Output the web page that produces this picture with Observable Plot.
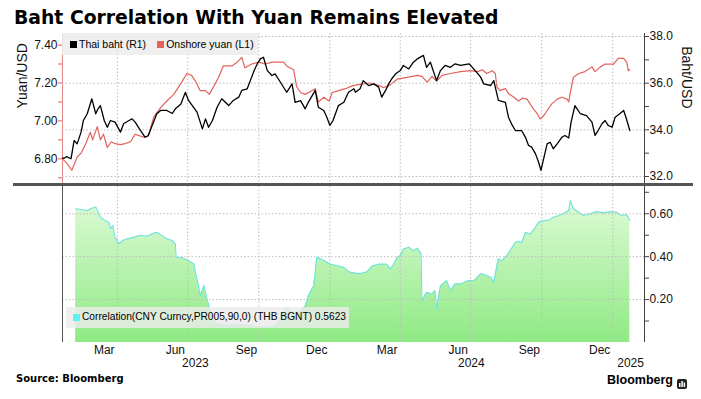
<!DOCTYPE html>
<html><head><meta charset="utf-8">
<script src="https://cdn.jsdelivr.net/npm/d3@7"></script>
<script src="https://cdn.jsdelivr.net/npm/@observablehq/plot@0.6"></script>
<style>
body{margin:0;background:#fff;}
#root{position:relative;width:701px;height:399px;overflow:hidden;background:#fff;font-family:"Liberation Sans",sans-serif;color:#000;}
.abs{position:absolute;}
#title{left:14px;top:9px;font:bold 18.8px/1 "DejaVu Sans",sans-serif;white-space:nowrap;}
.leg{display:flex;align-items:center;font:10.5px/1 "Liberation Sans",sans-serif;white-space:nowrap;}
.sq{display:inline-block;width:7px;height:7px;margin-right:2px;}
#sep{left:13px;top:183px;width:680px;height:3px;background:#555;}
#source{left:16px;top:373.5px;font:bold 10px/1 "DejaVu Sans",sans-serif;white-space:nowrap;}
#brand{left:607px;top:374.4px;font:bold 12.5px/1 "Liberation Sans",sans-serif;white-space:nowrap;}
#icon{left:677px;top:375px;width:10px;height:10px;}
</style></head><body><div id="root"></div>
<script>
// ---------------- data ----------------
const titleText = "Baht Correlation With Yuan Remains Elevated";
const sourceText = "Source: Bloomberg";
const seriesNames = ["Thai baht (R1)", "Onshore yuan (L1)"];
const corrName = "Correlation(CNY Curncy,PR005,90,0) (THB BGNT) 0.5623";
const leftAxisTitle = "Yuan/USD";
const rightAxisTitle = "Baht/USD";

const yuanDates = ["2023-01-20","2023-01-25","2023-02-01","2023-02-08","2023-02-13","2023-02-19","2023-02-25","2023-02-28","2023-03-06","2023-03-10","2023-03-14","2023-03-19","2023-03-24","2023-03-29","2023-04-05","2023-04-11","2023-04-18","2023-04-24","2023-05-01","2023-05-05","2023-05-11","2023-05-18","2023-05-27","2023-06-04","2023-06-13","2023-06-24","2023-06-30","2023-07-06","2023-07-11","2023-07-17","2023-07-24","2023-07-29","2023-08-04","2023-08-10","2023-08-16","2023-08-27","2023-09-03","2023-09-09","2023-09-13","2023-09-22","2023-10-01","2023-10-09","2023-10-18","2023-11-02","2023-11-06","2023-11-15","2023-11-19","2023-11-24","2023-11-30","2023-12-09","2023-12-13","2023-12-17","2023-12-24","2023-12-31","2024-01-04","2024-01-12","2024-01-21","2024-01-30","2024-02-05","2024-02-13","2024-02-22","2024-03-06","2024-03-10","2024-03-19","2024-03-28","2024-04-10","2024-04-23","2024-04-29","2024-05-06","2024-05-12","2024-05-18","2024-05-25","2024-06-05","2024-06-18","2024-07-01","2024-07-10","2024-07-16","2024-07-22","2024-07-29","2024-08-02","2024-08-04","2024-08-08","2024-08-15","2024-08-19","2024-08-26","2024-09-01","2024-09-06","2024-09-12","2024-09-16","2024-09-20","2024-09-25","2024-09-29","2024-10-04","2024-10-08","2024-10-14","2024-10-21","2024-10-27","2024-11-03","2024-11-05","2024-11-08","2024-11-11","2024-11-18","2024-11-26","2024-12-05","2024-12-09","2024-12-16","2024-12-22","2025-01-02","2025-01-08","2025-01-15","2025-01-19","2025-01-21","2025-01-23"];
const yuanValues = [6.80,6.78,6.74,6.81,6.83,6.88,6.94,6.90,6.97,6.90,6.93,6.86,6.89,6.88,6.875,6.88,6.89,6.93,6.92,6.915,6.92,7.02,7.07,7.105,7.14,7.21,7.25,7.24,7.21,7.16,7.16,7.14,7.185,7.23,7.29,7.29,7.31,7.335,7.28,7.30,7.31,7.30,7.31,7.31,7.29,7.27,7.18,7.15,7.14,7.16,7.17,7.10,7.125,7.105,7.15,7.16,7.17,7.185,7.19,7.195,7.20,7.185,7.175,7.19,7.22,7.23,7.24,7.235,7.205,7.235,7.21,7.24,7.25,7.26,7.265,7.26,7.27,7.25,7.265,7.25,7.18,7.16,7.17,7.145,7.125,7.105,7.12,7.115,7.09,7.065,7.04,7.01,7.03,7.055,7.09,7.115,7.125,7.115,7.10,7.17,7.23,7.25,7.26,7.285,7.26,7.285,7.30,7.30,7.33,7.33,7.31,7.265,7.27];

const bahtDates = ["2023-01-20","2023-01-22","2023-01-25","2023-01-31","2023-02-04","2023-02-08","2023-02-13","2023-02-16","2023-02-21","2023-02-27","2023-03-04","2023-03-07","2023-03-10","2023-03-15","2023-03-19","2023-03-23","2023-03-29","2023-04-05","2023-04-09","2023-04-16","2023-04-20","2023-04-24","2023-05-01","2023-05-07","2023-05-11","2023-05-16","2023-05-22","2023-05-27","2023-06-04","2023-06-11","2023-06-15","2023-06-22","2023-06-28","2023-07-02","2023-07-07","2023-07-13","2023-07-20","2023-07-24","2023-07-28","2023-08-02","2023-08-08","2023-08-14","2023-08-23","2023-08-29","2023-09-05","2023-09-09","2023-09-16","2023-09-20","2023-09-25","2023-09-29","2023-10-03","2023-10-07","2023-10-12","2023-10-18","2023-10-22","2023-10-29","2023-11-06","2023-11-13","2023-11-17","2023-11-24","2023-11-30","2023-12-04","2023-12-13","2023-12-17","2023-12-24","2023-12-28","2024-01-01","2024-01-05","2024-01-12","2024-01-19","2024-01-25","2024-02-01","2024-02-03","2024-02-09","2024-02-13","2024-02-20","2024-02-27","2024-03-04","2024-03-08","2024-03-13","2024-03-17","2024-03-21","2024-03-26","2024-04-01","2024-04-05","2024-04-12","2024-04-18","2024-04-23","2024-05-01","2024-05-05","2024-05-10","2024-05-15","2024-05-18","2024-05-23","2024-05-29","2024-06-05","2024-06-11","2024-06-18","2024-06-29","2024-07-07","2024-07-14","2024-07-18","2024-07-27","2024-07-31","2024-08-04","2024-08-06","2024-08-15","2024-08-19","2024-08-24","2024-08-28","2024-09-05","2024-09-10","2024-09-14","2024-09-18","2024-09-23","2024-09-27","2024-09-30","2024-10-04","2024-10-08","2024-10-12","2024-10-16","2024-10-21","2024-10-27","2024-10-31","2024-11-05","2024-11-08","2024-11-13","2024-11-20","2024-11-28","2024-12-05","2024-12-09","2024-12-13","2024-12-18","2024-12-22","2024-12-26","2024-12-31","2025-01-04","2025-01-10","2025-01-15","2025-01-18","2025-01-23"];
const bahtValues = [32.80,32.78,32.85,32.76,33.54,33.40,33.90,34.40,34.69,35.33,34.69,34.90,35.04,34.40,34.11,34.40,34.33,33.90,34.26,34.40,34.47,34.33,33.97,33.68,33.76,34.19,34.69,34.83,34.83,34.70,34.90,35.10,35.61,35.26,35.04,34.76,34.04,34.47,34.11,34.40,34.97,35.33,35.04,35.26,35.40,35.69,35.76,36.11,36.54,36.83,37.04,37.11,36.54,36.33,36.40,36.04,35.61,35.97,35.18,35.25,34.90,35.18,35.69,34.97,34.83,34.54,34.19,34.40,35.04,35.18,35.61,35.76,35.61,35.76,36.11,35.90,35.97,35.83,35.40,35.69,35.97,36.19,36.40,36.54,36.76,36.61,36.90,37.04,37.19,36.68,36.90,36.40,36.11,36.54,36.76,36.68,36.83,36.76,36.83,36.54,36.26,35.97,35.90,36.11,35.54,35.26,35.18,34.54,34.19,33.97,33.97,33.68,33.33,33.26,32.97,32.61,32.26,32.83,33.40,33.47,33.19,33.40,33.68,33.76,33.65,34.33,35.04,34.69,34.61,34.33,33.76,33.97,34.26,34.40,34.19,34.11,34.54,34.69,34.83,34.54,33.97];

const corrDates = ["2023-02-06","2023-02-13","2023-02-21","2023-02-27","2023-03-04","2023-03-07","2023-03-10","2023-03-16","2023-03-21","2023-03-23","2023-03-26","2023-03-29","2023-04-03","2023-04-08","2023-04-14","2023-04-22","2023-05-01","2023-05-09","2023-05-15","2023-05-22","2023-05-29","2023-06-04","2023-06-11","2023-06-15","2023-06-16","2023-06-24","2023-07-02","2023-07-09","2023-07-11","2023-07-15","2023-07-17","2023-07-22","2023-07-26","2023-07-30","2023-08-03","2023-08-07","2023-08-19","2023-09-07","2023-09-20","2023-10-03","2023-10-16","2023-10-26","2023-11-02","2023-11-06","2023-11-13","2023-11-24","2023-11-30","2023-12-04","2023-12-11","2023-12-15","2023-12-19","2023-12-24","2024-01-01","2024-01-10","2024-01-19","2024-01-27","2024-02-09","2024-02-18","2024-02-25","2024-03-06","2024-03-15","2024-03-19","2024-03-23","2024-03-28","2024-04-01","2024-04-05","2024-04-12","2024-04-18","2024-04-23","2024-04-28","2024-04-29","2024-05-05","2024-05-12","2024-05-16","2024-05-18","2024-05-23","2024-05-31","2024-06-05","2024-06-11","2024-06-20","2024-06-27","2024-07-06","2024-07-14","2024-07-20","2024-07-27","2024-07-31","2024-08-04","2024-08-06","2024-08-10","2024-08-17","2024-08-24","2024-08-28","2024-09-01","2024-09-05","2024-09-10","2024-09-16","2024-09-23","2024-09-27","2024-10-04","2024-10-10","2024-10-16","2024-10-23","2024-10-29","2024-11-05","2024-11-07","2024-11-11","2024-11-18","2024-11-24","2024-12-03","2024-12-11","2024-12-20","2024-12-29","2025-01-06","2025-01-12","2025-01-19","2025-01-23"];
const corrValues = [0.623,0.620,0.615,0.626,0.631,0.610,0.584,0.569,0.560,0.530,0.545,0.490,0.460,0.475,0.483,0.490,0.500,0.495,0.505,0.514,0.498,0.483,0.475,0.460,0.397,0.395,0.382,0.366,0.327,0.265,0.218,0.265,0.203,0.148,0.101,0.090,0.080,0.085,0.080,0.072,0.070,0.090,0.140,0.160,0.140,0.145,0.170,0.218,0.265,0.397,0.392,0.382,0.366,0.358,0.350,0.327,0.320,0.330,0.358,0.366,0.365,0.343,0.360,0.397,0.405,0.436,0.444,0.428,0.440,0.413,0.195,0.234,0.226,0.242,0.156,0.265,0.288,0.242,0.273,0.275,0.288,0.290,0.320,0.315,0.304,0.280,0.358,0.390,0.380,0.405,0.444,0.467,0.472,0.465,0.514,0.505,0.537,0.561,0.569,0.569,0.584,0.592,0.600,0.615,0.662,0.623,0.607,0.592,0.600,0.610,0.605,0.610,0.607,0.592,0.595,0.569];

const xExtent = ["2023-01-20", "2025-02-11"];
const quarterStarts = ["2023-04-01","2023-07-01","2023-10-01","2024-01-01","2024-04-01","2024-07-01","2024-10-01","2025-01-01"];
const monthTicks = ["2023-03-15","2023-06-15","2023-09-15","2023-12-15","2024-03-15","2024-06-15","2024-09-15","2024-12-15"];
const yearLabels = ["2023","2024","2025"];
const yearAnchors = ["2023-07-11","2024-07-02","2025-01-24"];

const yuanDomain = [6.670, 7.461];
const yuanMinor = [6.7,6.8,6.9,7.0,7.1,7.2,7.3,7.4];
const yuanMajor = [6.8,7.0,7.2,7.4];
const bahtDomain = [31.70, 38.129];
const bahtMinor = [32,33,34,35,36,37,38];
const bahtMajor = [32,34,36,38];
const corrDomain = [0, 0.727];
const corrMinor = [0.1,0.2,0.3,0.4,0.5,0.6,0.7];
const corrMajor = [0.2,0.4,0.6];

// ---------------- build ----------------
const parse = d3.utcParse("%Y-%m-%d");
const yuan = yuanDates.map((d, i) => ({date: parse(d), value: yuanValues[i]}));
const baht = bahtDates.map((d, i) => ({date: parse(d), value: bahtValues[i]}));
const corr = corrDates.map((d, i) => ({date: parse(d), value: corrValues[i]}));
const xDomain = xExtent.map(parse);
const qDates = quarterStarts.map(parse);
const mTicks = monthTicks.map(parse);

const RED = "#e2625c";
const GRID = {stroke: "#bdbdbd", strokeDasharray: "1.5,2", strokeWidth: 1};
const svgStyle = {background: "transparent", fontFamily: "Liberation Sans, sans-serif", fontSize: "12px", overflow: "visible", color: "#000"};
const base = {width: 701, marginLeft: 62, marginRight: 57, style: svgStyle};

const root = document.getElementById("root");
function place(el, left, top) { el.classList.add("abs"); el.style.left = left + "px"; el.style.top = top + "px"; root.appendChild(el); return el; }

const yuanPlot = Plot.plot({
  ...base, height: 154, marginTop: 3, marginBottom: 1,
  x: {type: "utc", domain: xDomain, axis: null, label: null},
  y: {domain: yuanDomain, label: null},
  marks: [
    Plot.ruleX(qDates, GRID),
    Plot.ruleX([xDomain[0]], {stroke: "#e58a86"}),
    Plot.axisY(yuanMinor, {anchor: "left", tickSize: 4, stroke: RED, tickFormat: () => "", label: null}),
    Plot.axisY(yuanMajor, {anchor: "left", tickSize: 0, tickPadding: 5, tickFormat: d => d.toFixed(2), fill: "#111", label: null}),
    Plot.line(yuan, {x: "date", y: "value", stroke: RED, strokeWidth: 1.2}),
    Plot.text([leftAxisTitle], {frameAnchor: "left", rotate: -90, dx: -40, fontSize: 14, fill: "#111"})
  ]
});
const bahtPlot = Plot.plot({
  ...base, height: 154, marginTop: 3, marginBottom: 1,
  x: {type: "utc", domain: xDomain, axis: null, label: null},
  y: {domain: bahtDomain, label: null},
  marks: [
    Plot.ruleY(bahtMajor, GRID),
    Plot.ruleX([xDomain[1]], {stroke: "#444"}),
    Plot.axisY(bahtMinor, {anchor: "right", tickSize: 4, stroke: "#444", tickFormat: () => "", label: null}),
    Plot.axisY(bahtMajor, {anchor: "right", tickSize: 0, tickPadding: 5, tickFormat: d => d.toFixed(1), fill: "#111", label: null}),
    Plot.line(baht, {x: "date", y: "value", stroke: "#000", strokeWidth: 1.3}),
    Plot.text([rightAxisTitle], {frameAnchor: "right", rotate: 90, dx: 42, fontSize: 14, fill: "#111"})
  ]
});
const corrPlot = Plot.plot({
  ...base, height: 190, marginTop: 6, marginBottom: 28,
  x: {type: "utc", domain: xDomain, label: null},
  y: {domain: corrDomain, label: null},
  marks: [
    () => {
      const defs = d3.create("svg:defs");
      const g = defs.append("linearGradient").attr("id", "corrGrad").attr("x1", 0).attr("x2", 0).attr("y1", 0).attr("y2", 1);
      g.append("stop").attr("offset", "0%").attr("stop-color", "#dcfad5");
      g.append("stop").attr("offset", "100%").attr("stop-color", "#8fea84");
      return defs.node();
    },
    Plot.areaY(corr, {x: "date", y: "value", fill: "url(#corrGrad)"}),
    Plot.line(corr, {x: "date", y: "value", stroke: "#6fe3e0", strokeWidth: 1.1}),
    Plot.ruleY(corrMajor, GRID),
    Plot.ruleX(qDates, GRID),
    Plot.ruleX([xDomain[0]], {stroke: "#555"}),
    Plot.ruleX([xDomain[1]], {stroke: "#444"}),
    Plot.axisY(corrMinor, {anchor: "right", tickSize: 4, stroke: "#444", tickFormat: () => "", label: null}),
    Plot.axisY(corrMajor, {anchor: "right", tickSize: 0, tickPadding: 5, tickFormat: d => d.toFixed(2), fill: "#111", label: null}),
    Plot.axisX(mTicks, {tickSize: 0, tickPadding: 3, tickFormat: d3.utcFormat("%b"), fill: "#111", label: null}),
    Plot.text(yearLabels, {x: (d, i) => parse(yearAnchors[i]), text: d => d, frameAnchor: "bottom", dy: 21, lineAnchor: "middle", fill: "#111"})
  ]
});

place(yuanPlot, 0, 30);
place(bahtPlot, 0, 30);
place(corrPlot, 0, 180);

const title = document.createElement("div"); title.id = "title"; title.textContent = titleText; place(title, 14, 9);

// top legend
const leg1 = document.createElement("div");
leg1.className = "leg";
leg1.style.cssText += "width:196px;height:22px;background:rgba(236,236,236,0.85);padding-left:8px;box-sizing:border-box;";
leg1.innerHTML = `<span class="sq" style="background:#000"></span><span>${seriesNames[0]}</span><span class="sq" style="background:${RED};margin-left:11px"></span><span>${seriesNames[1]}</span>`;
place(leg1, 62, 33);

// bottom legend
const leg2 = document.createElement("div");
leg2.className = "leg";
leg2.style.cssText += "width:283px;height:21px;background:rgba(236,236,236,0.82);padding-left:7px;box-sizing:border-box;font-size:10.2px;";
leg2.innerHTML = `<span class="sq" style="background:#5ff0f0"></span><span>${corrName}</span>`;
place(leg2, 66, 307);

const sep = document.createElement("div"); sep.id = "sep"; place(sep, 13, 183);
const src = document.createElement("div"); src.id = "source"; src.textContent = sourceText; place(src, 16, 373.5);
const brand = document.createElement("div"); brand.id = "brand"; brand.textContent = "Bloomberg"; place(brand, 607, 374.4);
const icon = document.createElement("div"); icon.id = "icon";
icon.innerHTML = `<svg width="10" height="10"><rect width="10" height="10" rx="2" fill="#222"/><rect x="2" y="4" width="1.5" height="4" fill="#fff"/><rect x="4.3" y="2" width="1.5" height="6" fill="#fff"/><rect x="6.6" y="3.5" width="1.5" height="4.5" fill="#fff"/></svg>`;
place(icon, 677, 375);
</script></body></html>
